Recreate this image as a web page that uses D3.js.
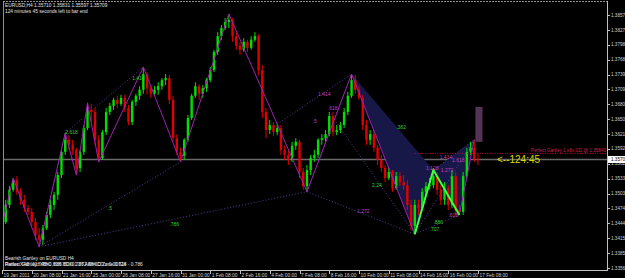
<!DOCTYPE html>
<html>
<head>
<meta charset="utf-8">
<title>EURUSD H4 Gartley</title>
<script src="https://d3js.org/d3.v7.min.js"></script>
<style>
  body { margin: 0; background: #000; }
  svg { display: block; font-family: "Liberation Sans", Arial, sans-serif; }
</style>
</head>
<body>
<div id="chart"></div>
<script>
// candles, [open, high, low, close], one per H4 bar from 19 Jan 00:00
var candles = [
  [1.3435,1.3455,1.3427,1.3447],[1.3447,1.3491,1.3443,1.3481],[1.3481,1.3518,1.3475,1.3511],[1.3511,1.3534,1.3507,1.3530],
  [1.3530,1.3538,1.3501,1.3507],[1.3507,1.3514,1.3481,1.3491],[1.3491,1.3501,1.3467,1.3475],[1.3475,1.3481,1.3461,1.3467],
  [1.3467,1.3475,1.3439,1.3447],[1.3447,1.3455,1.3412,1.3421],[1.3421,1.3435,1.3398,1.3412],[1.3412,1.3441,1.3402,1.3435],
  [1.3435,1.3467,1.3431,1.3461],[1.3461,1.3491,1.3455,1.3481],[1.3481,1.3507,1.3471,1.3501],[1.3501,1.3546,1.3491,1.3540],
  [1.3540,1.3590,1.3534,1.3586],[1.3586,1.3623,1.3580,1.3610],[1.3610,1.3619,1.3590,1.3600],[1.3600,1.3610,1.3580,1.3590],
  [1.3590,1.3594,1.3540,1.3554],[1.3554,1.3590,1.3546,1.3586],[1.3586,1.3639,1.3580,1.3633],[1.3633,1.3683,1.3629,1.3669],
  [1.3669,1.3681,1.3645,1.3665],[1.3665,1.3673,1.3600,1.3610],[1.3610,1.3619,1.3566,1.3574],[1.3574,1.3629,1.3570,1.3625],
  [1.3625,1.3673,1.3619,1.3665],[1.3665,1.3683,1.3659,1.3677],[1.3677,1.3693,1.3669,1.3689],[1.3689,1.3697,1.3673,1.3681],
  [1.3681,1.3699,1.3677,1.3693],[1.3693,1.3699,1.3665,1.3673],[1.3673,1.3679,1.3639,1.3645],[1.3645,1.3689,1.3639,1.3685],
  [1.3685,1.3701,1.3677,1.3697],[1.3697,1.3716,1.3689,1.3709],[1.3709,1.3754,1.3701,1.3740],[1.3740,1.3744,1.3699,1.3712],
  [1.3712,1.3718,1.3693,1.3701],[1.3701,1.3716,1.3697,1.3709],[1.3709,1.3724,1.3699,1.3716],[1.3716,1.3732,1.3709,1.3728],
  [1.3728,1.3740,1.3718,1.3732],[1.3732,1.3738,1.3681,1.3689],[1.3689,1.3697,1.3606,1.3613],[1.3613,1.3621,1.3580,1.3586],
  [1.3586,1.3594,1.3566,1.3578],[1.3578,1.3613,1.3570,1.3610],[1.3610,1.3659,1.3606,1.3653],[1.3653,1.3701,1.3649,1.3697],
  [1.3697,1.3724,1.3693,1.3716],[1.3716,1.3720,1.3689,1.3701],[1.3701,1.3718,1.3693,1.3712],[1.3712,1.3732,1.3705,1.3728],
  [1.3728,1.3754,1.3724,1.3748],[1.3748,1.3788,1.3744,1.3784],[1.3784,1.3823,1.3778,1.3815],[1.3815,1.3837,1.3808,1.3831],
  [1.3831,1.3851,1.3827,1.3843],[1.3843,1.3859,1.3831,1.3847],[1.3847,1.3851,1.3804,1.3815],[1.3815,1.3823,1.3788,1.3796],
  [1.3796,1.3804,1.3778,1.3788],[1.3788,1.3811,1.3784,1.3804],[1.3804,1.3808,1.3784,1.3792],[1.3792,1.3815,1.3788,1.3808],
  [1.3808,1.3823,1.3804,1.3815],[1.3815,1.3819,1.3738,1.3748],[1.3748,1.3758,1.3653,1.3665],[1.3665,1.3673,1.3613,1.3629],
  [1.3629,1.3649,1.3621,1.3639],[1.3639,1.3645,1.3617,1.3625],[1.3625,1.3641,1.3619,1.3633],[1.3633,1.3639,1.3580,1.3590],
  [1.3590,1.3598,1.3570,1.3580],[1.3580,1.3590,1.3560,1.3570],[1.3570,1.3606,1.3566,1.3598],[1.3598,1.3613,1.3590,1.3606],
  [1.3606,1.3610,1.3534,1.3546],[1.3546,1.3554,1.3511,1.3518],[1.3518,1.3560,1.3507,1.3550],[1.3550,1.3580,1.3540,1.3574],
  [1.3574,1.3590,1.3566,1.3580],[1.3580,1.3613,1.3574,1.3610],[1.3610,1.3621,1.3600,1.3613],[1.3613,1.3629,1.3606,1.3621],
  [1.3621,1.3665,1.3617,1.3657],[1.3657,1.3665,1.3617,1.3625],[1.3625,1.3639,1.3619,1.3629],[1.3629,1.3645,1.3623,1.3639],
  [1.3639,1.3673,1.3633,1.3665],[1.3665,1.3705,1.3659,1.3697],[1.3697,1.3740,1.3693,1.3728],[1.3728,1.3738,1.3701,1.3709],
  [1.3709,1.3716,1.3689,1.3693],[1.3693,1.3699,1.3629,1.3639],[1.3639,1.3649,1.3600,1.3610],[1.3610,1.3629,1.3600,1.3621],
  [1.3621,1.3629,1.3586,1.3594],[1.3594,1.3600,1.3560,1.3570],[1.3570,1.3580,1.3546,1.3554],[1.3554,1.3560,1.3526,1.3534],
  [1.3534,1.3554,1.3530,1.3546],[1.3546,1.3550,1.3507,1.3514],[1.3514,1.3546,1.3511,1.3538],[1.3538,1.3546,1.3518,1.3526],
  [1.3526,1.3540,1.3511,1.3520],[1.3520,1.3530,1.3471,1.3481],[1.3481,1.3491,1.3431,1.3439],[1.3439,1.3491,1.3423,1.3481],
  [1.3481,1.3491,1.3461,1.3475],[1.3475,1.3514,1.3471,1.3507],[1.3507,1.3526,1.3501,1.3518],[1.3518,1.3534,1.3511,1.3520],
  [1.3520,1.3550,1.3514,1.3538],[1.3538,1.3546,1.3501,1.3511],[1.3511,1.3520,1.3481,1.3491],[1.3491,1.3526,1.3481,1.3514],
  [1.3514,1.3520,1.3471,1.3481],[1.3481,1.3550,1.3475,1.3538],[1.3538,1.3546,1.3461,1.3471],[1.3471,1.3481,1.3461,1.3467],
  [1.3467,1.3546,1.3461,1.3538],[1.3538,1.3594,1.3534,1.3586],[1.3586,1.3606,1.3580,1.3594],[1.3594,1.3610,1.3566,1.3571],
  [1.35710,1.35831,1.35597,1.35709]
];

// axis labels
var timeLabels = ["19 Jan 2011","20 Jan 08:00","21 Jan 16:00","25 Jan 00:00","26 Jan 08:00","27 Jan 16:00",
  "31 Jan 00:00","1 Feb 08:00","2 Feb 16:00","4 Feb 00:00","7 Feb 08:00","8 Feb 16:00","10 Feb 00:00",
  "11 Feb 08:00","14 Feb 16:00","16 Feb 00:00","17 Feb 08:00"];
var priceTicks = [1.38570,1.38275,1.37980,1.37685,1.37390,1.37095,1.36800,1.36505,1.36210,1.35920,
  1.35625,1.35330,1.35035,1.34740,1.34445,1.34150,1.33855,1.33560];
var lastPrice = 1.35709;

// zigzag swing points [bar, price]
var zigzag = [[0,1.3441],[3,1.3534],[10,1.3398],[17,1.3623],[20,1.3540],[23,1.3683],[26,1.3566],
  [38,1.3754],[48,1.3566],[61,1.3859],[82,1.3507],[94,1.3740],[111,1.3423],[116,1.3550],[123,1.3461],[127,1.3610]];
// gartley points X, A, B, C, D
var gartley = [[94,1.3740],[111,1.3423],[116,1.3550],[123,1.3461],[127,1.3610]];
// dotted ratio lines [bar1, price1, bar2, price2]
var ratioLines = [[10,1.3398,48,1.3566],[10,1.3398,82,1.3507],[17,1.3623,38,1.3754],[10,1.3398,17,1.3623],
  [82,1.3507,111,1.3423],[74,1.3641,94,1.3740],[82,1.3507,94,1.3740],[111,1.3423,123,1.3461],
  [116,1.3550,127,1.3610],[111,1.3423,127,1.3610],[88,1.3665,111,1.3423]];
// ratio labels [bar, price, text, kind]
var ratioLabels = [[17,1.3625,"2.618","g"],[35,1.3732,"1.414","g"],[28.5,1.3475,".5","g"],[45,1.3443,".786","g"],
  [85,1.3701,"1.414","m"],[87.6,1.3673,".618","m"],[83.5,1.3647,".5","m"],[99.5,1.3520,"2.24","g"],
  [106,1.3635,".382","g"],[95.5,1.3469,"1.272","m"],[117.7,1.3576,"1.414","m"],[121,1.3570,"1.618","m"],
  [114,1.3554,"1.128","m"],[118,1.3550,"1.272","m"],[116,1.3447,".886","g"],[115,1.3433,".707","g"],
  [120,1.3461,".618","m"]];
var targetPrice = 1.3583;

var width = 625, height = 278;
var svg = d3.select("#chart").append("svg")
  .attr("width", width)
  .attr("height", height);

var x = d3.scaleLinear().domain([0, 128]).range([2, 478]);
var y = d3.scaleLinear().domain([1.3356, 1.3857]).range([268, 15]);

var plot = svg.append("g");
plot.append("clipPath").attr("id", "clip")
  .append("rect").attr("x", 3).attr("y", 2).attr("width", 604).attr("height", 268);
var area = plot.append("g").attr("clip-path", "url(#clip)");

// current price line
area.append("line")
  .attr("x1", 3).attr("x2", 607)
  .attr("y1", y(lastPrice)).attr("y2", y(lastPrice))
  .attr("stroke", "#6a6a6a").attr("stroke-width", 1.3);

// filled gartley triangles
var tri = [[0, 1, 2], [2, 3, 4]];
area.selectAll(".tri").data(tri).enter().append("path")
  .attr("d", function(t) { return "M" + t.map(function(k) { return x(gartley[k][0]) + "," + y(gartley[k][1]); }).join("L") + "Z"; })
  .attr("fill", "#181848").attr("stroke", "none");

// dotted ratio lines
area.selectAll(".ratio").data(ratioLines).enter().append("line")
  .attr("x1", function(d) { return x(d[0]); }).attr("y1", function(d) { return y(d[1]); })
  .attr("x2", function(d) { return x(d[2]); }).attr("y2", function(d) { return y(d[3]); })
  .attr("stroke", "#50409a").attr("stroke-width", 1).attr("stroke-dasharray", "1,2");

// candles
var candle = area.selectAll(".candle").data(candles).enter().append("g");
candle.append("line")
  .attr("x1", function(d, i) { return x(i); }).attr("x2", function(d, i) { return x(i); })
  .attr("y1", function(d) { return y(d[1]); }).attr("y2", function(d) { return y(d[2]); })
  .attr("stroke", function(d) { return d[3] >= d[0] ? "#00e000" : "#e00000"; });
candle.append("rect")
  .attr("x", function(d, i) { return x(i) - 1.2; })
  .attr("width", 2.4)
  .attr("y", function(d) { return y(Math.max(d[0], d[3])); })
  .attr("height", function(d) { return Math.max(0.8, Math.abs(y(d[0]) - y(d[3]))); })
  .attr("fill", function(d) { return d[3] >= d[0] ? "#00e000" : "#e00000"; });

// zigzag
area.append("path")
  .attr("d", d3.line().x(function(d) { return x(d[0]); }).y(function(d) { return y(d[1]); })(zigzag))
  .attr("fill", "none").attr("stroke", "#a020b0").attr("stroke-width", 1);

// green A-B-C legs
area.append("path")
  .attr("d", d3.line().x(function(d) { return x(d[0]); }).y(function(d) { return y(d[1]); })(gartley.slice(1, 4)))
  .attr("fill", "none").attr("stroke", "#40ff40").attr("stroke-width", 2);

// projected D level
area.append("line")
  .attr("x1", x(111)).attr("x2", 607)
  .attr("y1", y(targetPrice)).attr("y2", y(targetPrice))
  .attr("stroke", "#c01040").attr("stroke-width", 1).attr("stroke-dasharray", "1,1.5");
area.append("text")
  .attr("x", 606).attr("y", y(targetPrice) - 1.5)
  .attr("text-anchor", "end")
  .attr("font-size", 4.6).attr("fill", "#d02050")
  .text("Perfect Gartley 1.x8u CD @ 1.35840");

// box above last bar
area.append("rect")
  .attr("x", x(127.3)).attr("width", x(129.2) - x(127.3))
  .attr("y", y(1.3675)).attr("height", y(1.3606) - y(1.3675))
  .attr("fill", "#553355");

// ratio labels
area.selectAll(".rl").data(ratioLabels).enter().append("text")
  .attr("x", function(d) { return x(d[0]); }).attr("y", function(d) { return y(d[1]); })
  .attr("dy", "0.35em")
  .attr("font-size", 5)
  .attr("fill", function(d) { return d[3] == "g" ? "#30d030" : "#c040c0"; })
  .text(function(d) { return d[2]; });

// timer
area.append("text")
  .attr("x", 497).attr("y", y(lastPrice) + 4)
  .attr("font-size", 10).attr("fill", "#d8d800")
  .text("<--124:45");

// frame
svg.append("line").attr("x1", 3).attr("x2", 607).attr("y1", 1.5).attr("y2", 1.5)
  .attr("stroke", "#909090").attr("stroke-dasharray", "2,1");
svg.append("line").attr("x1", 3.5).attr("x2", 3.5).attr("y1", 1).attr("y2", 270)
  .attr("stroke", "#909090");
svg.append("line").attr("x1", 3).attr("x2", 607.5).attr("y1", 270.5).attr("y2", 270.5)
  .attr("stroke", "#c0c0c0");
svg.append("line").attr("x1", 607.5).attr("x2", 607.5).attr("y1", 1).attr("y2", 271)
  .attr("stroke", "#c0c0c0");

// price axis
var py = svg.append("g");
py.selectAll(".pt").data(priceTicks).enter().append("line")
  .attr("x1", 607).attr("x2", 610)
  .attr("y1", function(d) { return Math.round(y(d)) + 0.5; })
  .attr("y2", function(d) { return Math.round(y(d)) + 0.5; })
  .attr("stroke", "#c0c0c0");
py.selectAll(".pl").data(priceTicks).enter().append("text")
  .attr("x", 611).attr("y", function(d) { return y(d); })
  .attr("dy", "0.35em")
  .attr("font-size", 4.6).attr("fill", "#d0d0d0")
  .text(function(d) { return d.toFixed(5); });
py.append("rect").attr("x", 608).attr("y", y(lastPrice) - 3.5).attr("width", 17).attr("height", 7)
  .attr("fill", "#ffffff");
py.append("text").attr("x", 611).attr("y", y(lastPrice)).attr("dy", "0.35em")
  .attr("font-size", 4.6).attr("fill", "#000")
  .text(lastPrice.toFixed(5));

// time axis
var tx = svg.append("g");
tx.selectAll(".tt").data(timeLabels).enter().append("line")
  .attr("x1", function(d, i) { return Math.round(x(i * 8)) + 0.5; })
  .attr("x2", function(d, i) { return Math.round(x(i * 8)) + 0.5; })
  .attr("y1", 270).attr("y2", 274)
  .attr("stroke", "#c0c0c0");
tx.selectAll(".tl").data(timeLabels).enter().append("text")
  .attr("x", function(d, i) { return x(i * 8) + 1.5; })
  .attr("y", 276.5)
  .attr("font-size", 4.8).attr("fill", "#d0d0d0")
  .text(function(d) { return d; });

// info texts
var info = svg.append("g").attr("font-size", 4.8).attr("fill", "#e0e0e0");
info.append("text").attr("x", 5).attr("y", 7).text("EURUSD,H4  1.35710 1.35831 1.35597 1.35709");
info.append("text").attr("x", 5).attr("y", 12.5).text("124 minutes 45 seconds left to bar end");
info.append("text").attr("x", 5).attr("y", 259.5).text("Bearish Gartley on EURUSD H4");
info.append("text").attr("x", 5).attr("y", 265.5).text("Perfect Gartley: XB=0.618 XD=0.786 AB=CD Zone 0.618 - 0.786");
info.append("text").attr("x", 5).attr("y", 265.5).text("Ratios XAB .618 ABC .886 BCD 1.272 AB=CD x 0.00724");
</script>
</body>
</html>
